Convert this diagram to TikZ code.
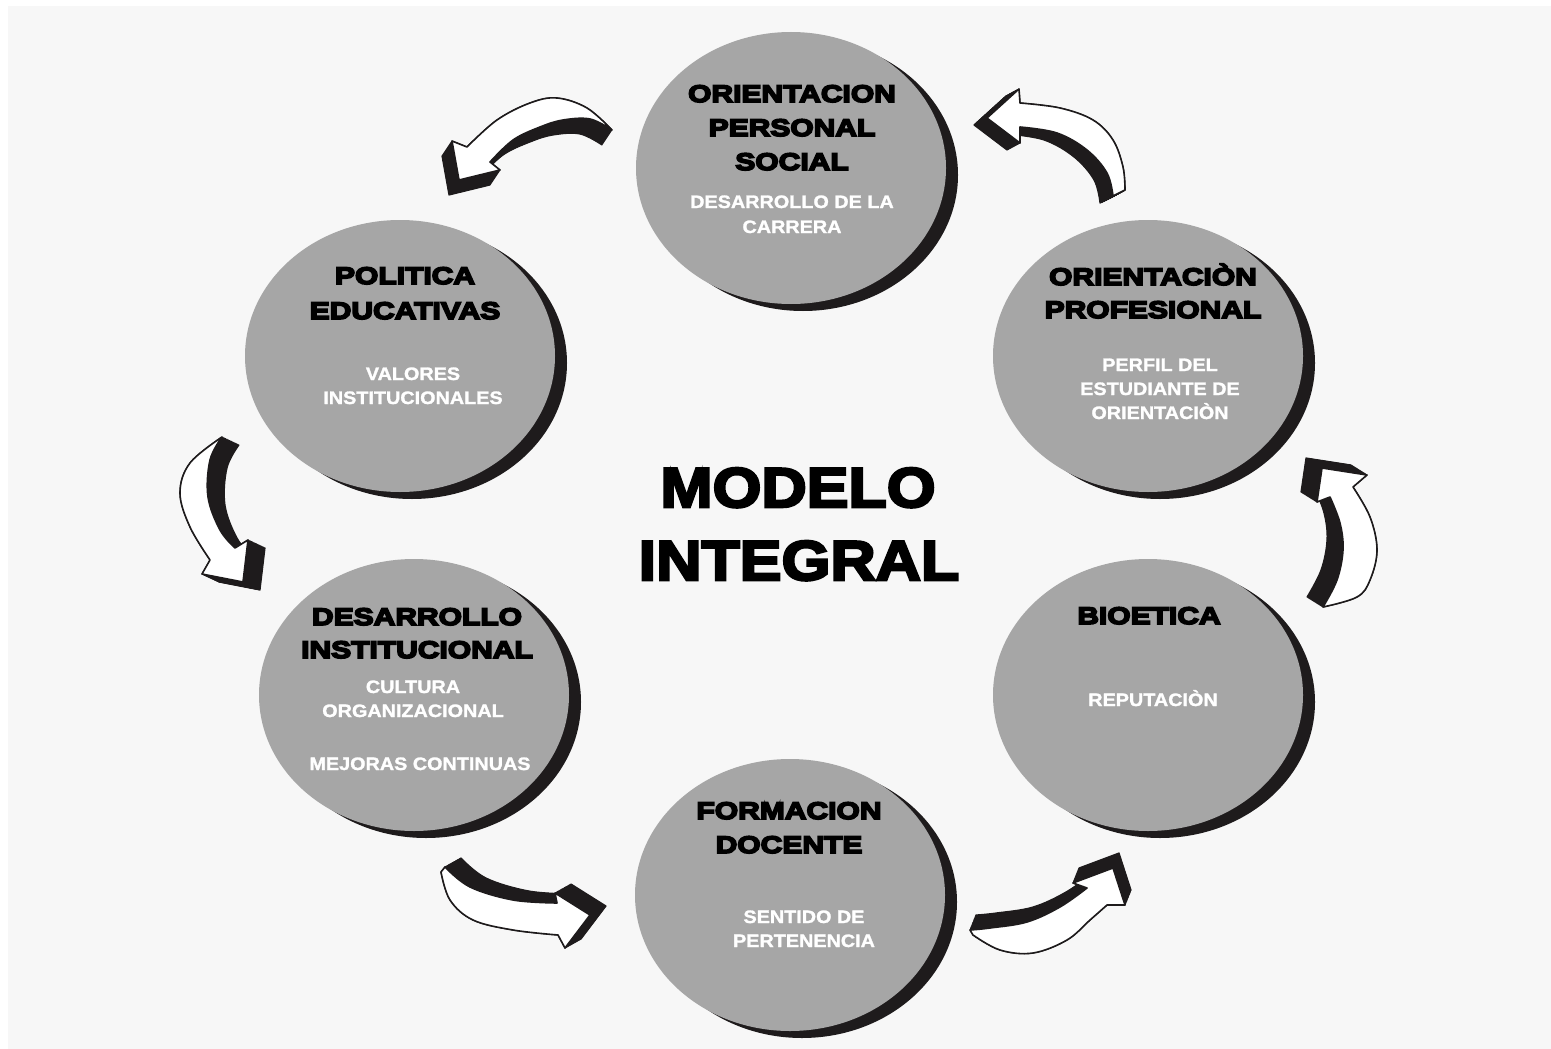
\documentclass[tikz,border=0pt]{standalone}
\usepackage{fontspec}
\usetikzlibrary{shapes.geometric,shadows}
\newfontfamily\heavy{Liberation Sans Bold}[FakeStretch=1.25, FakeBold=7]
\newfontfamily\heavyT{Liberation Sans Bold}[FakeStretch=1.12, FakeBold=4.5]
\newfontfamily\wfont{Liberation Sans Bold}[FakeStretch=1.1, FakeBold=1.5]
\definecolor{bg}{HTML}{F7F7F7}
\definecolor{disc}{HTML}{A6A6A6}
\definecolor{ink}{HTML}{1E1B1C}

% curved 3D arrows (pixel coordinates)
\newcommand\arrA[1]{\path[#1] plot[smooth,tension=0.6] coordinates{(612,130) (587,108) (557,98) (530,103) (497,120) (467,147)}
  -- (452,141) -- (459,180) -- (500,170)
  -- plot[smooth,tension=0.6] coordinates{(490,162) (513,140) (540,127) (563,120) (590,119) (612,130)} -- cycle;}
\newcommand\arrB[1]{\path[#1] plot[smooth,tension=0.6] coordinates{(1020,103) (1060,108) (1093,120) (1113,140) (1123,167) (1125,190)}
  -- (1113,196)
  -- plot[smooth,tension=0.6] coordinates{(1113,196) (1107,173) (1087,150) (1057,133) (1020,127)}
  -- (1020,143) -- (987,118) -- (1019,89) -- cycle;}
\newcommand\arrC[1]{\path[#1] plot[smooth,tension=0.6] coordinates{(222,437) (190,463) (180,493) (190,527) (210,560)}
  -- (202,574) -- (243,582) -- (248,540)
  -- plot[smooth,tension=0.6] coordinates{(235,548) (220,530) (208,497) (210,460) (222,437)} -- cycle;}
\newcommand\arrD[1]{\path[#1] plot[smooth,tension=0.6] coordinates{(1323,607) (1357,597) (1370,580) (1377,550) (1370,517) (1353,487)}
  -- (1367,475) -- (1322,468) -- (1317,502)
  -- plot[smooth,tension=0.6] coordinates{(1330,497) (1340,523) (1343,550) (1337,580) (1323,607)} -- cycle;}
\newcommand\arrE[1]{\path[#1] plot[smooth,tension=0.6] coordinates{(445,867) (470,887) (513,900) (557,903)}
  -- (555,893) -- (590,915) -- (565,948)
  -- plot[smooth,tension=0.6] coordinates{(558,935) (513,930) (473,920) (450,900) (441,872)} -- cycle;}
\newcommand\arrF[1]{\path[#1] plot[smooth,tension=0.6] coordinates{(970,930) (990,928) (1027,922) (1060,907) (1087,888)}
  -- (1073,883) -- (1113,868) -- (1125,905)
  -- plot[smooth,tension=0.6] coordinates{(1107,905) (1090,920) (1067,940) (1033,953) (1000,950) (973,935)} -- cycle;}

\begin{document}
\begin{tikzpicture}[x=1pt,y=-1pt,
  blob/.style={ellipse, fill=disc, minimum width=310pt, minimum height=272pt, inner sep=0pt,
    drop shadow={shadow xshift=12pt, shadow yshift=-7pt, fill=ink, opacity=1}},
  hd/.style={font=\heavy\fontsize{24}{28}\selectfont, text=black, anchor=base, inner sep=0pt},
  wt/.style={font=\wfont\fontsize{18}{22}\selectfont, text=white, anchor=base, inner sep=0pt},
  ttl/.style={font=\heavyT\fontsize{56}{60}\selectfont, text=black, anchor=base, inner sep=0pt},
  ext/.style={fill=ink, draw=ink, line width=1.2pt, line join=round},
  face/.style={fill=white, draw=ink, line width=1.6pt, line join=round}]
\useasboundingbox (0,0) rectangle (1551,1049);
\fill[white] (0,0) rectangle (1551,1049);
\fill[bg] (8,6) rectangle (1551,1049);

% discs
\node[blob] (c1) at (791,168) {};
\node[blob] (c2) at (400,356) {};
\node[blob] (c3) at (1148,356) {};
\node[blob] (c4) at (414,695) {};
\node[blob] (c5) at (1148,695) {};
\node[blob] (c6) at (790,895) {};

% texts
\node[hd] (t1a) at (792,102) {ORIENTACION};
\node[hd] (t1b) at (792,136) {PERSONAL};
\node[hd] (t1c) at (792,170) {SOCIAL};
\node[wt] (s1a) at (792,208) {DESARROLLO DE LA};
\node[wt] (s1b) at (792,233) {CARRERA};

\node[hd] (t2a) at (405,284) {POLITICA};
\node[hd] (t2b) at (405,319) {EDUCATIVAS};
\node[wt] (s2a) at (413,380) {VALORES};
\node[wt] (s2b) at (413,404) {INSTITUCIONALES};

\node[hd] (t3a) at (1153,285) {ORIENTACIÒN};
\node[hd] (t3b) at (1153,318) {PROFESIONAL};
\node[wt] (s3a) at (1160,371) {PERFIL DEL};
\node[wt] (s3b) at (1160,395) {ESTUDIANTE DE};
\node[wt] (s3c) at (1160,419) {ORIENTACIÒN};

\node[hd] (t4a) at (417,625) {DESARROLLO};
\node[hd] (t4b) at (417,658) {INSTITUCIONAL};
\node[wt] (s4a) at (413,693) {CULTURA};
\node[wt] (s4b) at (413,717) {ORGANIZACIONAL};
\node[wt] (s4c) at (420,770) {MEJORAS CONTINUAS};

\node[hd] (t5a) at (1149,624) {BIOETICA};
\node[wt] (s5a) at (1153,706) {REPUTACIÒN};

\node[hd] (t6a) at (789,819) {FORMACION};
\node[hd] (t6b) at (789,853) {DOCENTE};
\node[wt] (s6a) at (804,923) {SENTIDO DE};
\node[wt] (s6b) at (804,947) {PERTENENCIA};

\node[ttl] (m1) at (798,507) {MODELO};
\node[ttl] (m2) at (799,580) {INTEGRAL};

% arrows: extrusion then face
\foreach \k in {0,...,20}{\arrA{ext, shift={({-0.5*\k},{0.75*\k})}}}
\arrA{face}
\foreach \k in {0,...,20}{\arrB{ext, shift={({-0.65*\k},{0.35*\k})}}}
\arrB{face}
\foreach \k in {0,...,20}{\arrC{ext, shift={({0.85*\k},{0.4*\k})}}}
\arrC{face}
\foreach \k in {0,...,20}{\arrD{ext, shift={({-0.8*\k},{-0.5*\k})}}}
\arrD{face}
\foreach \k in {0,...,20}{\arrE{ext, shift={({0.8*\k},{-0.45*\k})}}}
\arrE{face}
\foreach \k in {0,...,20}{\arrF{ext, shift={({0.3*\k},{-0.75*\k})}}}
\arrF{face}
\end{tikzpicture}
\end{document}
